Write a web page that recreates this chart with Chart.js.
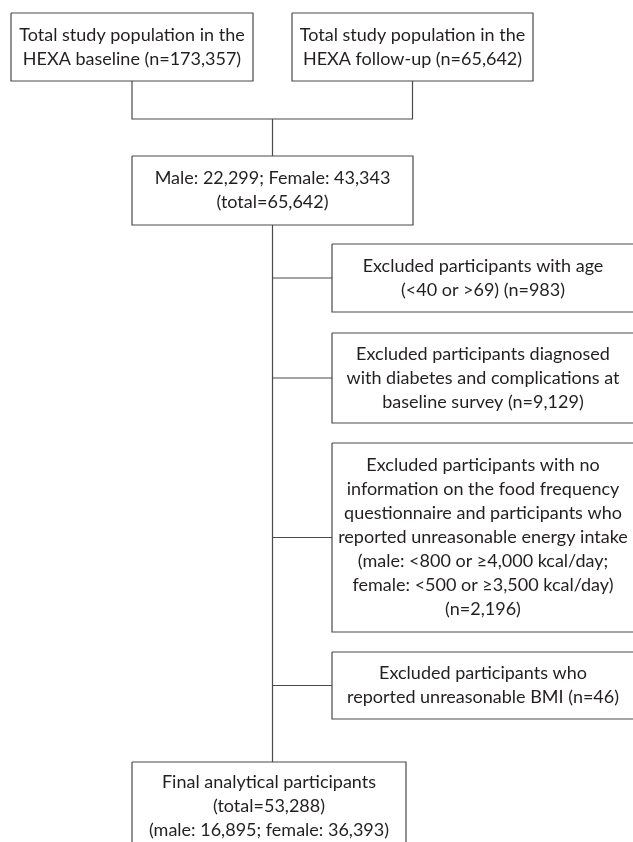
<!DOCTYPE html>
<html>
<head>
<meta charset="utf-8">
<script src="https://cdn.jsdelivr.net/npm/chart.js@4.4.0/dist/chart.umd.min.js"></script>
<style>
  html, body { margin: 0; padding: 0; background: #fff; }
  #wrap { width: 633px; height: 842px; overflow: hidden; }
</style>
</head>
<body>
<div id="wrap"><canvas id="flow" width="633" height="842"></canvas></div>
<script>
// steps of the flow, in drawing order
const stepIds = ["baseline", "followup", "merged", "age", "diabetes", "diet", "bmi", "final"];

// text of each step box, one entry per line
const stepLines = [
  ["Total study population in the", "HEXA baseline (n=173,357)"],
  ["Total study population in the", "HEXA follow-up (n=65,642)"],
  ["Male: 22,299; Female: 43,343", "(total=65,642)"],
  ["Excluded participants with age", "(<40 or >69) (n=983)"],
  ["Excluded participants diagnosed", "with diabetes and complications at", "baseline survey (n=9,129)"],
  ["Excluded participants with no", "information on the food frequency", "questionnaire and participants who",
   "reported unreasonable energy intake", "(male: <800 or \u22654,000 kcal/day;",
   "female: <500 or \u22653,500 kcal/day)", "(n=2,196)"],
  ["Excluded participants who", "reported unreasonable BMI (n=46)"],
  ["Final analytical participants", "(total=53,288)", "(male: 16,895; female: 36,393)"]
];

// exclusion steps hang off the main line
const exclusionIds = ["age", "diabetes", "diet", "bmi"];

// layout in axis units: [left, top, right, bottom]
const boxLayout = {
  baseline: [11, 13, 253, 81],
  followup: [292, 13, 533, 81],
  merged:   [132, 156, 413, 225],
  age:      [332, 244, 634, 312],
  diabetes: [332, 333, 634, 423],
  diet:     [332, 443, 634, 632],
  bmi:      [332, 652, 634, 719],
  final:    [132, 762, 406, 850]
};
const joinY = 119;
const mainX = 272.5;
const lineGap = 24;

const midX = (b) => (b[0] + b[2]) / 2;
const midY = (b) => (b[1] + b[3]) / 2;

function rectPoints(b) {
  return [
    { x: b[0], y: b[1] }, { x: b[2], y: b[1] },
    { x: b[2], y: b[3] }, { x: b[0], y: b[3] }, { x: b[0], y: b[1] }
  ];
}

function buildDatasets() {
  const sets = [];
  const lineStyle = { showLine: true, borderColor: "#4a4a4a", borderWidth: 1.2, pointRadius: 0, fill: false };

  stepIds.forEach((id) => {
    sets.push({ ...lineStyle, label: id, data: rectPoints(boxLayout[id]) });
  });

  const a = boxLayout.baseline;
  const b = boxLayout.followup;
  sets.push({ ...lineStyle, label: "join", data: [
    { x: midX(a), y: a[3] }, { x: midX(a), y: joinY },
    { x: midX(b), y: joinY }, { x: midX(b), y: b[3] }
  ] });
  sets.push({ ...lineStyle, label: "down", data: [
    { x: mainX, y: joinY }, { x: mainX, y: boxLayout.merged[1] }
  ] });
  sets.push({ ...lineStyle, label: "main", data: [
    { x: mainX, y: boxLayout.merged[3] }, { x: mainX, y: boxLayout.final[1] }
  ] });
  exclusionIds.forEach((id) => {
    const e = boxLayout[id];
    sets.push({ ...lineStyle, label: "to-" + id, data: [
      { x: mainX, y: midY(e) }, { x: e[0], y: midY(e) }
    ] });
  });
  return sets;
}

const stepText = {
  id: "stepText",
  afterDatasetsDraw(chart) {
    const { ctx, scales } = chart;
    ctx.save();
    ctx.font = "18px Lato";
    ctx.fillStyle = "#231f20";
    ctx.textAlign = "center";
    ctx.textBaseline = "middle";
    stepIds.forEach((id, i) => {
      const box = boxLayout[id];
      const lines = stepLines[i];
      const cx = scales.x.getPixelForValue(midX(box));
      const first = midY(box) - (lines.length - 1) * lineGap / 2;
      lines.forEach((t, k) => {
        ctx.fillText(t, cx, scales.y.getPixelForValue(first + k * lineGap));
      });
    });
    ctx.restore();
  }
};

new Chart(document.getElementById("flow"), {
  type: "scatter",
  data: { datasets: buildDatasets() },
  options: {
    responsive: false,
    animation: false,
    events: [],
    layout: { padding: 0 },
    plugins: { legend: { display: false }, tooltip: { enabled: false } },
    scales: {
      x: { type: "linear", min: 0, max: 633, display: false },
      y: { type: "linear", min: 0, max: 842, reverse: true, display: false }
    }
  },
  plugins: [stepText]
});
</script>
</body>
</html>
